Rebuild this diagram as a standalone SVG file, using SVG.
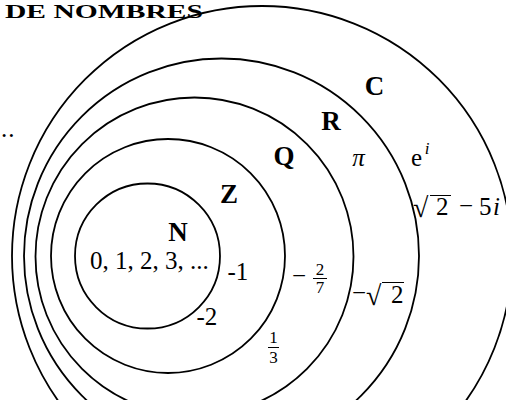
<svg xmlns="http://www.w3.org/2000/svg" width="506" height="400" viewBox="0 0 506 400">
<style>
.ring{fill:none;stroke:#000;stroke-width:1.8}
.lbl{font-family:"Liberation Serif","Times New Roman",serif;font-weight:bold;font-size:27px;text-anchor:middle;fill:#000}
.m{font-family:"Liberation Serif","Times New Roman",serif;font-size:25px;fill:#000}
.it{font-style:italic}
.f{font-family:"Liberation Serif","Times New Roman",serif;font-size:17px;text-anchor:middle;fill:#000}
.bar{stroke:#000;stroke-width:1}
.title{font-family:"Liberation Serif","Times New Roman",serif;font-weight:bold;font-size:19px;fill:#000}
</style>
<rect width="506" height="400" fill="#fff"/>
<text class="title" x="5" y="17.5" textLength="198" lengthAdjust="spacingAndGlyphs">DE NOMBRES</text>
<text class="m" x="1" y="137" letter-spacing="1">..</text>
<g id="set-C">
<circle class="ring" cx="262" cy="256" r="250"/>
<text class="lbl" x="374.5" y="95">C</text>
<text class="m" x="411" y="166">e</text>
<text class="f it" x="427" y="154">i</text>
<text class="m"><tspan x="413" y="217" font-size="28">√</tspan><tspan x="436" y="215">2</tspan><tspan x="459" y="214">−</tspan><tspan x="479" y="215">5</tspan><tspan x="493" y="215" font-style="italic">i</tspan></text>
<line class="bar" x1="430" y1="195.5" x2="451" y2="195.5"/>
</g>
<g id="set-R">
<circle class="ring" cx="221.5" cy="256" r="197.5"/>
<text class="lbl" x="331" y="130">R</text>
<text class="m it" x="358.5" y="166" text-anchor="middle">π</text>
<text class="m"><tspan x="352" y="301">−</tspan><tspan x="366" y="305" font-size="28">√</tspan><tspan x="391" y="303">2</tspan></text>
<line class="bar" x1="382" y1="282.5" x2="404" y2="282.5"/>
</g>
<g id="set-Q">
<circle class="ring" cx="194.5" cy="256.5" r="159"/>
<text class="lbl" x="284" y="165">Q</text>
<text class="m" x="292" y="284">−</text>
<text class="f" x="320" y="275">2</text>
<line class="bar" x1="313" y1="278.5" x2="327" y2="278.5"/>
<text class="f" x="320" y="293">7</text>
<text class="f" x="273.5" y="343">1</text>
<line class="bar" x1="268" y1="347.5" x2="279" y2="347.5"/>
<text class="f" x="273.5" y="363">3</text>
</g>
<g id="set-Z">
<circle class="ring" cx="168" cy="256" r="117"/>
<text class="lbl" x="229" y="203">Z</text>
<text class="m" x="227.5" y="280">-1</text>
<text class="m" x="196.5" y="325">-2</text>
</g>
<g id="set-N">
<circle class="ring" cx="147.5" cy="256" r="72.5"/>
<text class="lbl" x="178" y="241">N</text>
<text class="m" x="90" y="269">0, 1, 2, 3, ...</text>
</g>
</svg>
